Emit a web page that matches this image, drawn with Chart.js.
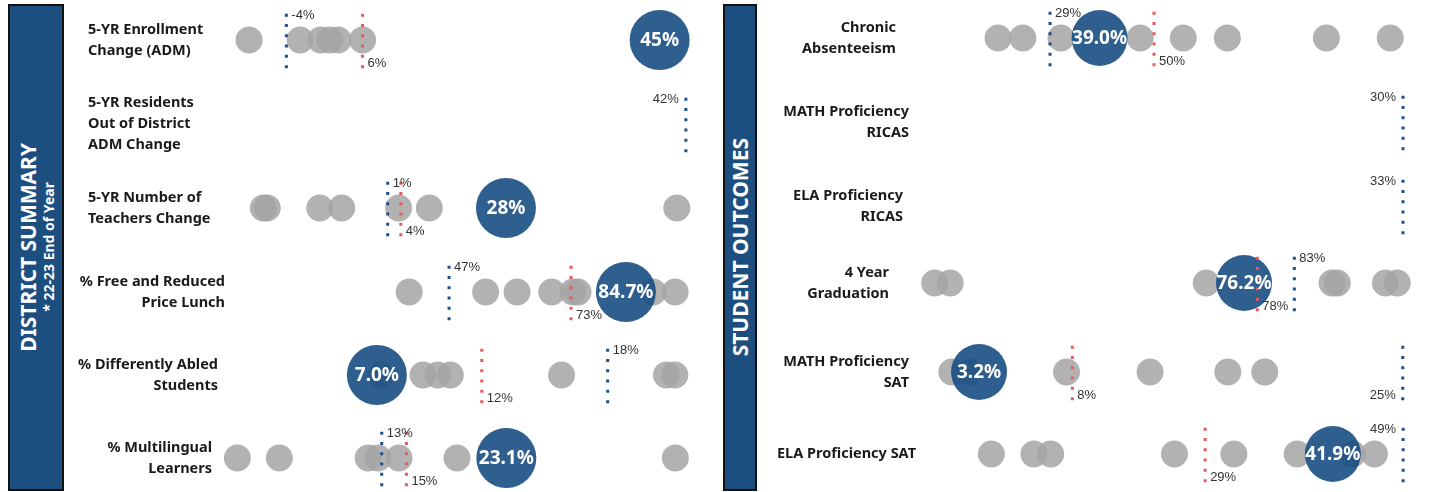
<!DOCTYPE html>
<html>
<head>
<meta charset="utf-8">
<script src="https://cdn.jsdelivr.net/npm/chart.js@4.4.1/dist/chart.umd.min.js"></script>
<style>
  body { margin: 0; background: #fff; width: 1430px; height: 492px; overflow: hidden; position: relative; font-family: 'Noto Sans', sans-serif; }
  .band { position: absolute; top: 4px; height: 487px; box-sizing: border-box; border: 2px solid #111; background: #1d4e80; color: #fff;
          display: flex; align-items: center; justify-content: center; }
  .band .txt { writing-mode: vertical-rl; transform: rotate(180deg); text-align: center; font-weight: 700; white-space: nowrap; }
  .band .t1 { font-size: 21px; line-height: 24px; }
  .band .t2 { font-size: 14px; line-height: 17px; }
  .row { position: absolute; height: 84px; }
</style>
</head>
<body>
<div class="band" style="left:8px;width:56px"><div class="txt"><div class="t1">DISTRICT SUMMARY</div><div class="t2">* 22-23 End of Year</div></div></div>
<div class="band" style="left:723px;width:34px"><div class="txt"><div class="t1">STUDENT OUTCOMES</div></div></div>

<script>
// ---- District summary (left) ----
const summaryLabels = [
    ["5-YR Enrollment", "Change (ADM)"],
    ["5-YR Residents", "Out of District", "ADM Change"],
    ["5-YR Number of", "Teachers Change"],
    ["% Free and Reduced", "Price Lunch"],
    ["% Differently Abled", "Students"],
    ["% Multilingual", "Learners"]
];
const summaryOthers = [
    [-8.9, -2.2, 0.5, 1.7, 2.8, 6.0],
    [],
    [-27.4, -26.5, -14.5, -9.5, 3.5, 10.5, 67.0],
    [38.5, 54.8, 61.5, 68.9, 73.4, 74.5, 90.5, 95.2],
    [7.2, 9.2, 9.9, 10.5, 15.8, 20.8, 21.2],
    [1.3, 4.7, 11.9, 12.7, 14.4, 19.1, 36.8]
];
const summaryDistrict = [45, null, 28, 84.7, 7.0, 23.1];
const summaryDecimals = [0, 0, 0, 1, 1, 1];
const summaryBlueRef = [-4, 42, 1, 47, 18, 13];
const summaryRedRef = [6, null, 4, 73, 12, 15];
const summaryMin = [-11.4, 0, -35, 0.3, 0, 0.7];
const summaryMax = [50.3, 43.3, 72.3, 100.5, 22.4, 38.8];

// ---- Student outcomes (right) ----
const outcomeLabels = [
    ["Chronic", "Absenteeism"],
    ["MATH Proficiency", "RICAS"],
    ["ELA Proficiency", "RICAS"],
    ["4 Year", "Graduation"],
    ["MATH Proficiency", "SAT"],
    ["ELA Proficiency SAT"]
];
const outcomeOthers = [
    [18.5, 23.5, 31.2, 47.2, 55.9, 64.8, 84.8, 97.7],
    [],
    [],
    [34.4, 36.5, 71.1, 88.1, 88.8, 95.3, 96.9],
    [1.8, 2.7, 7.7, 12.0, 16.0, 17.9],
    [7.4, 11.7, 13.4, 25.9, 31.9, 38.3, 43.9, 46.1]
];
const outcomeDistrict = [39.0, null, null, 76.2, 3.2, 41.9];
const outcomeDecimals = [1, 1, 1, 1, 1, 1];
const outcomeBlueRef = [29, 30, 33, 83, 25, 49];
const outcomeRedRef = [50, null, null, 78, 8, 29];
const outcomeMin = [3.75, 0, 0, 33.1, 0.42, 0.7];
const outcomeMax = [102.7, 30.75, 33.83, 99.3, 25.63, 50.2];

// layout (not data)
const leftLayout = {
    left: 70, width: 640, plotL: 230, radius: 30,
    rowY: [40, 124, 208, 292, 375, 458],
    align: ['far', 'far', 'far', 'near', 'near', 'near'],
    padLeft: [18, 18, 18, 0, 0, 0],
    pad: [0, 0, 0, 5, 12, 18],
    bluePos: ['top', 'top', 'top', 'top', 'top', 'top']
};
const rightLayout = {
    left: 760, width: 665, plotL: 925, radius: 28,
    rowY: [38, 122, 206, 283, 372, 454],
    align: ['near', 'near', 'near', 'near', 'near', 'near'],
    padLeft: [0, 0, 0, 0, 0, 0],
    pad: [29, 16, 22, 36, 16, 9],
    bluePos: ['top', 'top', 'top', 'top', 'bottom', 'top']
};

const BLUE_REF = '#1f4f8a';
const RED_REF = '#e8595c';

function criarLinha(lay, i, label, others, district, decimals, blueRef, redRef, min, max) {
    const div = document.createElement('div');
    div.className = 'row';
    div.style.left = lay.left + 'px';
    div.style.top = (lay.rowY[i] - 42) + 'px';
    div.style.width = lay.width + 'px';
    document.body.appendChild(div);
    const canvas = document.createElement('canvas');
    div.appendChild(canvas);

    const axisW = lay.plotL - lay.left - lay.padLeft[i];

    const refs = [];
    if (blueRef !== null) refs.push({ v: blueRef, color: BLUE_REF, pos: lay.bluePos[i] });
    if (redRef !== null) refs.push({ v: redRef, color: RED_REF, pos: 'bottom' });

    const datasets = [];
    refs.forEach(r => datasets.push({
        type: 'line',
        data: [{ x: r.v, y: -0.67 }, { x: r.v, y: 0.8 }],
        borderColor: r.color, borderWidth: 3, borderDash: [3, 7.3],
        pointRadius: 0, order: 0, clip: false
    }));
    if (district !== null) datasets.push({
        type: 'scatter',
        data: [{ x: district, y: 0 }],
        backgroundColor: 'rgba(24,78,130,0.9)', borderWidth: 0,
        pointRadius: lay.radius, order: 1, clip: false
    });
    datasets.push({
        type: 'scatter',
        data: others.map(v => ({ x: v, y: 0 })),
        backgroundColor: 'rgba(165,165,165,0.85)', borderWidth: 0,
        pointRadius: 13.5, order: 2, clip: false
    });

    // rótulos: valor do distrito e linhas de referência
    const rotulos = {
        id: 'rotulos',
        afterDatasetsDraw(chart) {
            const { ctx, chartArea } = chart;
            const x = chart.scales.x, y = chart.scales.y;
            const yc = y.getPixelForValue(0);
            ctx.save();
            ctx.textBaseline = 'middle';
            if (district !== null) {
                ctx.fillStyle = '#fff';
                ctx.textAlign = 'center';
                ctx.font = "bold 19px 'Noto Sans', sans-serif";
                ctx.fillText(district.toFixed(decimals) + '%', x.getPixelForValue(district), yc + 1);
            }
            ctx.fillStyle = '#333';
            ctx.font = "13px 'Liberation Sans', Arial, sans-serif";
            refs.forEach(r => {
                const px = x.getPixelForValue(r.v);
                const left = px > chartArea.right - 30;
                ctx.textAlign = left ? 'right' : 'left';
                ctx.fillText(r.v + '%', px + (left ? -7 : 5), yc + (r.pos === 'top' ? -25 : 23));
            });
            ctx.restore();
        }
    };

    new Chart(canvas, {
        type: 'scatter',
        data: { datasets },
        plugins: [rotulos],
        options: {
            responsive: true,
            maintainAspectRatio: false,
            animation: false,
            events: [],
            layout: { autoPadding: false, padding: { left: lay.padLeft[i], right: 10, top: 0, bottom: 0 } },
            plugins: { legend: { display: false }, tooltip: { enabled: false } },
            scales: {
                x: { type: 'linear', min: min, max: max, display: false },
                y: { type: 'linear', min: -1, max: 1, display: false },
                rowLabel: {
                    type: 'category', axis: 'y', position: 'left',
                    labels: [label], offset: true,
                    grid: { display: false, drawTicks: false }, border: { display: false },
                    ticks: {
                        crossAlign: lay.align[i], padding: lay.pad[i], color: '#1a1a1a',
                        font: { family: "'Noto Sans', sans-serif", weight: 'bold', size: 14.5, lineHeight: 1.45 }
                    },
                    afterFit(s) {
                        s.width = axisW;
                        s.paddingTop = 0;
                        s.paddingBottom = 0;
                    }
                }
            }
        }
    });
}

for (let i = 0; i < 6; i++) {
    criarLinha(leftLayout, i, summaryLabels[i], summaryOthers[i], summaryDistrict[i], summaryDecimals[i],
        summaryBlueRef[i], summaryRedRef[i], summaryMin[i], summaryMax[i]);
    criarLinha(rightLayout, i, outcomeLabels[i], outcomeOthers[i], outcomeDistrict[i], outcomeDecimals[i],
        outcomeBlueRef[i], outcomeRedRef[i], outcomeMin[i], outcomeMax[i]);
}
</script>
</body>
</html>
